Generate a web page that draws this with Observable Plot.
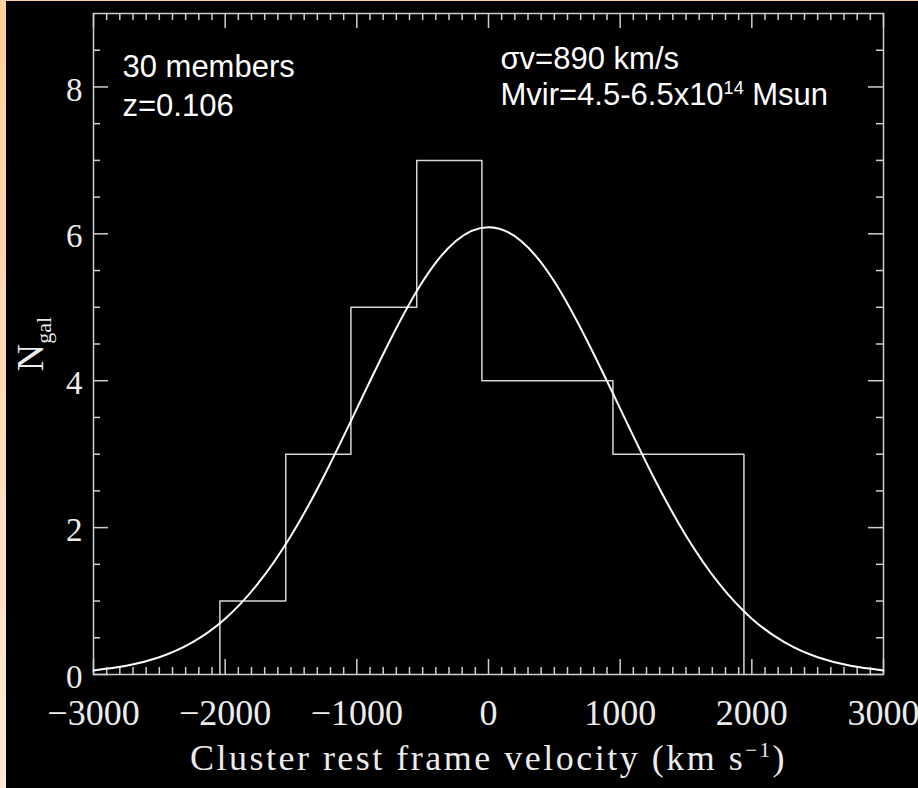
<!DOCTYPE html>
<html>
<head>
<meta charset="utf-8">
<script src="https://cdn.jsdelivr.net/npm/d3@7"></script>
<script src="https://cdn.jsdelivr.net/npm/@observablehq/plot@0.6"></script>
<style>
  html, body { margin: 0; padding: 0; }
  body { width: 918px; height: 788px; overflow: hidden; position: relative;
         background: linear-gradient(#ffcf9c, #fee9d6); }
  #bg { position: absolute; left: 6px; top: 1px; right: 0; bottom: 0; background: #000; }
  #chart { position: absolute; left: 0; top: 0; }
</style>
</head>
<body>
<div id="bg"></div>
<div id="chart"></div>
<script>
// ---- data ----
const binEdges = [-2040, -1540, -1045, -545, -50, 445, 945, 1440, 1940];
const binCounts = [1, 3, 5, 7, 4, 4, 3, 3];
const fitVelocity = [-3000, -2750, -2500, -2250, -2000, -1750, -1500, -1250, -1000, -750, -500, -250, 0,
                     250, 500, 750, 1000, 1250, 1500, 1750, 2000, 2250, 2500, 2750, 3000];
const fitCount = [0.056, 0.119, 0.235, 0.437, 0.76, 1.24, 1.89, 2.70, 3.62, 4.54, 5.35, 5.90, 6.09,
                  5.90, 5.35, 4.54, 3.62, 2.70, 1.89, 1.24, 0.76, 0.437, 0.235, 0.119, 0.056];
const xTickValues = [-3000, -2000, -1000, 0, 1000, 2000, 3000];
const yTickValues = [0, 2, 4, 6, 8];
const xTitle = "Cluster rest frame velocity (km s⁻¹)";
const yTitle = "Ngal";
const leftNotes = ["30 members", "z=0.106"];
const rightNotes = ["σv=890 km/s", "Mvir=4.5-6.5x10¹⁴ Msun"];

// ---- layout ----
const W = 918, H = 788;
const mL = 93, mR = 35, mT = 13, mB = 114;
const frameW = W - mL - mR, frameH = H - mT - mB;
const axisGray = "#cfcfcf";

const xMinor = d3.range(-3000, 3001, 100).filter(v => v % 1000 !== 0);
const yMinor = d3.range(0, 9, 0.5).filter(v => v % 2 !== 0);

const histSteps = [{v: binEdges[0], n: 0}]
  .concat(binCounts.map((c, i) => ({v: binEdges[i], n: c})))
  .concat([{v: binEdges[binEdges.length - 1], n: binCounts[binCounts.length - 1]},
           {v: binEdges[binEdges.length - 1], n: 0}]);
const fitData = fitVelocity.map((v, i) => ({v, n: fitCount[i]}));

const tickStyle = {stroke: axisGray, strokeWidth: 1.5};

const plot = Plot.plot({
  width: W, height: H,
  marginLeft: mL, marginRight: mR, marginTop: mT, marginBottom: mB,
  style: {background: "transparent", color: "#ececec", fontFamily: "'Liberation Serif', serif", overflow: "visible"},
  x: {domain: [-3000, 3000]},
  y: {domain: [0, 9]},
  marks: [
    // minor ticks (inward, all sides)
    Plot.tickX(xMinor, {insetTop: frameH - 7, ...tickStyle}),
    Plot.tickX(xMinor, {insetBottom: frameH - 7, ...tickStyle}),
    Plot.tickY(yMinor, {insetRight: frameW - 7, ...tickStyle}),
    Plot.tickY(yMinor, {insetLeft: frameW - 7, ...tickStyle}),
    // major ticks
    Plot.tickX(xTickValues, {insetTop: frameH - 15, ...tickStyle}),
    Plot.tickX(xTickValues, {insetBottom: frameH - 15, ...tickStyle}),
    Plot.tickY(yTickValues, {insetRight: frameW - 15, ...tickStyle}),
    Plot.tickY(yTickValues, {insetLeft: frameW - 15, ...tickStyle}),
    Plot.frame({stroke: axisGray, strokeWidth: 1.5}),
    Plot.axisX({ticks: xTickValues, tickSize: 0, tickPadding: 25, fontSize: 36, label: null,
                tickFormat: d => d < 0 ? "−" + Math.abs(d) : String(d)}),
    Plot.axisY({ticks: yTickValues, tickSize: 0, tickPadding: 11, fontSize: 33, label: null, dy: 3}),
    // histogram outline
    Plot.line(histSteps, {x: "v", y: "n", curve: "step-after", stroke: "#d6d6d6", strokeWidth: 1.5}),
    // gaussian fit
    Plot.line(fitData, {x: "v", y: "n", curve: "natural", stroke: "#ffffff", strokeWidth: 2}),
    // axis titles
    Plot.text([{v: 0, t: xTitle}], {x: "v", text: "t", frameAnchor: "bottom", dy: 95, lineAnchor: "bottom",
               fontSize: 36, fill: "#ececec"}),
    Plot.text([yTitle], {frameAnchor: "left", rotate: -90, dx: -51, lineAnchor: "bottom", textAnchor: "middle",
               fontSize: 38, fill: "#ececec"}),
    // annotations
    Plot.text(leftNotes, {x: [-2780, -2780], y: [8.13, 7.61], textAnchor: "start", lineAnchor: "bottom",
               fontSize: 31, fill: "#ffffff", fontFamily: "'Liberation Sans', Arial, sans-serif"}),
    Plot.text(rightNotes, {x: [91, 91], y: [8.25, 7.75], textAnchor: "start", lineAnchor: "bottom",
               fontSize: 31, fill: "#ffffff", fontFamily: "'Liberation Sans', Arial, sans-serif"})
  ]
});

// rich text (super/subscripts) inside real SVG text
function richText(svg, match, parts, extra) {
  d3.select(svg).selectAll("text").filter(function () { return this.textContent === match; })
    .each(function () {
      const t = d3.select(this);
      t.text(null);
      if (extra) extra(t);
      parts.forEach(p => {
        const s = t.append("tspan").text(p.text);
        if (p.size) s.attr("font-size", p.size);
        if (p.dy) s.attr("dy", p.dy);
      });
    });
}
richText(plot, rightNotes[1], [
  {text: "Mvir=4.5-6.5x10"}, {text: "14", size: 18, dy: -11}, {text: " Msun", dy: 11}
]);
richText(plot, xTitle, [
  {text: "Cluster rest frame velocity (km s"}, {text: "−1", size: 21, dy: -13}, {text: ")", dy: 13}
], t => t.attr("letter-spacing", 2.5));
richText(plot, yTitle, [
  {text: "N"}, {text: "gal", size: 22, dy: 8}
]);

document.getElementById("chart").appendChild(plot);
</script>
</body>
</html>
